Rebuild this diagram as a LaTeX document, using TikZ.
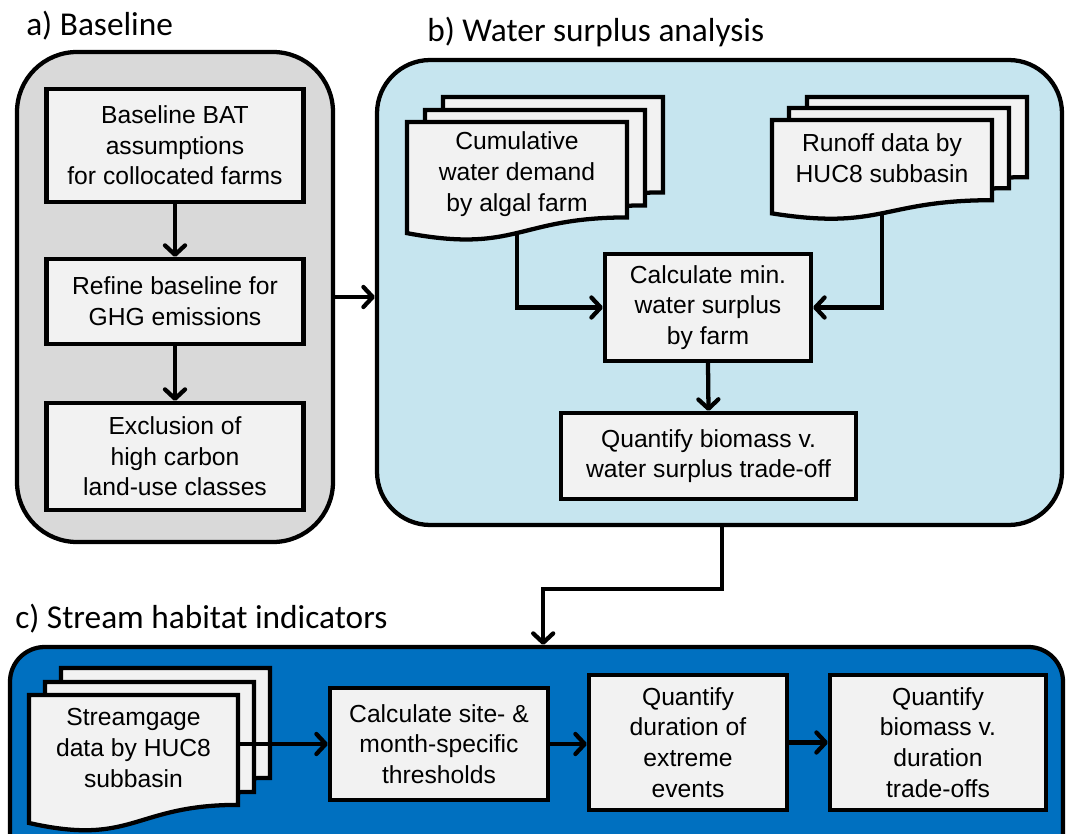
\documentclass[tikz,border=0pt]{standalone}
\usepackage{fontspec}
\setmainfont{Liberation Sans}
\newfontfamily\titlefont{Carlito}
\usetikzlibrary{arrows.meta}
\definecolor{panelA}{HTML}{D9D9D9}
\definecolor{panelB}{HTML}{C6E5EF}
\definecolor{panelC}{HTML}{0070C0}
\definecolor{boxfill}{HTML}{F2F2F2}
\newcommand{\docpath}[4]{%
  \filldraw[docline] (#1,#2) -- ({#1+#3},#2) -- ({#1+#3},{#2+0.802*#4})
    .. controls ({#1+0.5*#3},{#2+0.802*#4}) and ({#1+0.5*#3},{#2+1.107*#4}) ..
    (#1,{#2+0.934*#4}) -- cycle;}
\begin{document}
\begin{tikzpicture}[x=0.75pt,y=-0.75pt,
  sz/.style 2 args={minimum width=#1*0.75pt, minimum height=#2*0.75pt},
  panel/.style={draw=black, line width=3.2pt, rounded corners=#1, inner sep=0pt},
  stepbox/.style={draw=black, fill=boxfill, line width=3.2pt, align=center, inner sep=0pt,
    font=\fontsize{18.5}{23}\selectfont},
  doctext/.style={align=center, font=\fontsize{18.5}{23}\selectfont},
  docline/.style={draw=black, fill=boxfill, line width=3.2pt, line join=miter},
  arr/.style={draw=black, line width=3.2pt, -{Straight Barb[length=7pt,width=15pt,round]}},
  title/.style={anchor=base west, inner sep=0pt, font=\titlefont\fontsize{25}{29}\selectfont}]
\useasboundingbox (0,0) rectangle (1067,834);
\clip (0,0) rectangle (1067,834);
% titles
\node[title] (ta) at (26,36) {a) Baseline};
\node[title] (tb) at (427,42) {b) Water surplus analysis};
\node[title] (tc) at (15,628) {c) Stream habitat indicators};
% panels
\node[panel=45pt, fill=panelA, sz={316}{490}] (pa) at (175,297) {};
\node[panel=40pt, fill=panelB, sz={685}{465}] (pb) at (719.5,292.5) {};
\node[panel=26pt, fill=panelC, sz={1053}{300}] (pc) at (536.5,797) {};
% panel a boxes
\node[stepbox, sz={257}{113}] (a1) at (175,145.5) {Baseline BAT\\assumptions\\for collocated farms};
\node[stepbox, sz={257}{85}] (a2) at (175,301.5) {Refine baseline for\\GHG emissions};
\node[stepbox, sz={257}{107}] (a3) at (175,456.5) {Exclusion of\\high carbon\\land-use classes};
% panel b documents
\docpath{443}{97}{220}{119}
\docpath{425}{110}{220}{119}
\docpath{407}{122}{220}{119}
\node[doctext] (d1) at (517,174) {Cumulative\\water demand\\by algal farm};
\coordinate (d1b) at (517,233);
\docpath{807}{97}{220}{100}
\docpath{789}{108}{220}{100}
\docpath{772}{120}{220}{100}
\node[doctext] (d2) at (882,158) {Runoff data by\\HUC8 subbasin};
\coordinate (d2b) at (882,213);
\node[stepbox, sz={206}{107}] (b1) at (708,307.5) {Calculate min.\\water surplus\\by farm};
\node[stepbox, sz={295}{86}] (b2) at (708.5,456) {Quantify biomass v.\\water surplus trade-off};
% panel c
\docpath{61}{668}{209}{137}
\docpath{45}{682}{209}{137}
\docpath{29}{695}{209}{137}
\node[doctext] (d3) at (133.5,748) {Streamgage\\data by HUC8\\subbasin};
\coordinate (d3r) at (238,744);
\node[stepbox, sz={218}{112}] (c1) at (439,744) {Calculate site- \&\\month-specific\\thresholds};
\node[stepbox, sz={198}{135}] (c2) at (688,742.5) {Quantify\\duration of\\extreme\\events};
\node[stepbox, sz={216}{135}] (c3) at (938,742.5) {Quantify\\biomass v.\\duration\\trade-offs};
% connectors
\draw[arr] (a1.south) -- (a2.north);
\draw[arr] (a2.south) -- (a3.north);
\draw[arr] (pa.east) -- (pa.east -| pb.west);
\draw[arr] (d1b) |- (b1.west);
\draw[arr] (d2b) |- (b1.east);
\draw[arr] (b1.south) -- (b2.north);
\draw[arr, line join=miter] ([xshift=2pt]pb.south) -- ++(0,62) -| ([xshift=5pt]pc.north);
\draw[arr] (d3r) -- (d3r -| c1.west);
\draw[arr] (c1.east) -- (c1.east -| c2.west);
\draw[arr] (c2.east) -- (c2.east -| c3.west);
\end{tikzpicture}
\end{document}
